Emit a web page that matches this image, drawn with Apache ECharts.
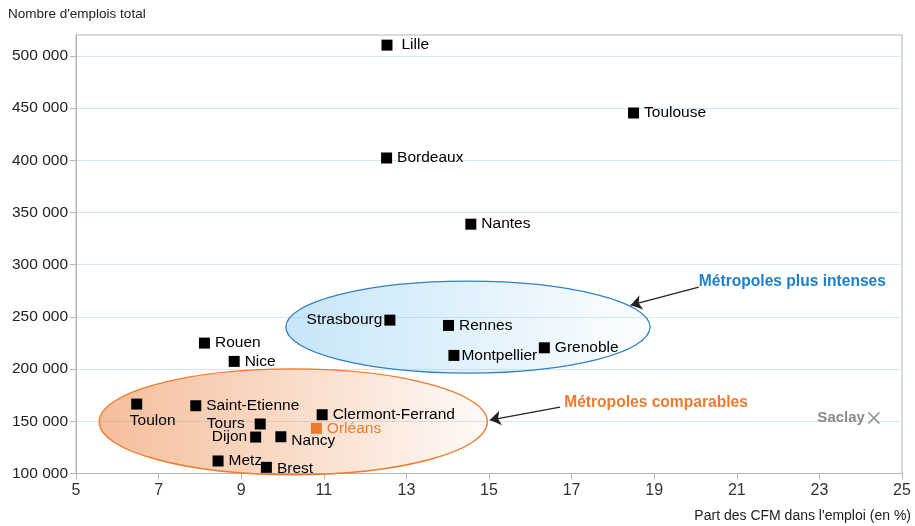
<!DOCTYPE html>
<html><head><meta charset="utf-8">
<script src="https://cdn.jsdelivr.net/npm/echarts@6/dist/echarts.min.js"></script>
<style>html,body{margin:0;padding:0;background:#fff}#c{width:915px;height:526px}</style>
</head><body><div id="c"></div>
<script>
// ---- data ----
var cities = ['Lille','Toulouse','Bordeaux','Nantes','Strasbourg','Rennes','Montpellier','Grenoble','Rouen','Nice','Toulon','Saint-Etienne','Tours','Dijon','Nancy','Clermont-Ferrand','Metz','Brest'];
var cfmShare = [12.53,18.50,12.52,14.56,12.60,14.02,14.15,16.34,8.11,8.83,6.47,7.90,9.46,9.35,9.96,10.96,8.44,9.61];
var jobs = [510300,445300,402200,338800,246900,241800,213100,220400,224900,207400,166500,164900,147400,134900,135200,156300,112000,105900];
var focusCity = ['Orléans'];
var focusShare = [10.82];
var focusJobs = [143300];
var saclayName = ['Saclay'];
var saclayShare = [24.32];
var saclayJobs = [153100];
var xTicks = [5,7,9,11,13,15,17,19,21,23,25];
var yTicks = [100000,150000,200000,250000,300000,350000,400000,450000,500000];
// annotation groups (ellipse centre x, centre y, radius x, radius y in data units)
var groupNames = ['Métropoles plus intenses','Métropoles comparables'];
var groupEllipse = [[14.49,240200,4.41,44000],[10.26,149500,4.70,50700]];
var groupArrowFrom = [[20.08,278500],[16.72,163600]];
var groupArrowTo = [[18.43,261200],[15.02,151200]];
var groupLabelAt = [[20.08,283300],[16.82,167500]];

var FONT = '"Liberation Sans", Arial, sans-serif';
var NARROW = '"Liberation Sans Narrow", "Liberation Sans", Arial, sans-serif';

// per-city label tweaks (style only)
var labelTweaks = {
  'Lille': {distance: 9},
  'Strasbourg': {position: 'left', distance: 2},
  'Tours': {position: 'left', distance: 10},
  'Dijon': {position: 'left', distance: 3},
  'Toulon': {position: 'bottom', distance: 3, offset: [16, 0]},
  'Nancy': {offset: [0, 4]},
  'Brest': {offset: [0, 1]},
  'Montpellier': {distance: 2}
};

var cityData = cities.map(function (n, i) {
  var d = {name: n, value: [cfmShare[i], jobs[i]]};
  if (labelTweaks[n]) d.label = labelTweaks[n];
  return d;
});

var blueFill = new echarts.graphic.LinearGradient(0, 0, 1, 0, [
  {offset: 0, color: 'rgba(120,195,240,0.42)'},
  {offset: 1, color: 'rgba(120,195,240,0.02)'}]);
var orangeFill = new echarts.graphic.LinearGradient(0, 0, 1, 0, [
  {offset: 0, color: 'rgba(235,125,55,0.50)'},
  {offset: 1, color: 'rgba(235,125,55,0.04)'}]);
var ellipseStyles = [
  {fill: blueFill, stroke: '#2f80c8', lineWidth: 1.3},
  {fill: orangeFill, stroke: '#f07a2a', lineWidth: 1.3}];
var groupColors = ['#1a80d0', '#f07a2a'];

var chart = echarts.init(document.getElementById('c'), null, {renderer: 'canvas'});
chart.setOption({
  animation: false,
  backgroundColor: '#fff',
  grid: {left: 76, right: 13, top: 35, bottom: 52.5, show: true, borderColor: '#b5b5b5', borderWidth: 1},
  xAxis: {
    type: 'value', min: 5, max: 25, interval: 2,
    axisLine: {show: true, lineStyle: {color: '#b5b5b5'}},
    axisTick: {show: true, length: 6, lineStyle: {color: '#b5b5b5'}, customValues: xTicks},
    splitLine: {show: false},
    axisLabel: {fontFamily: NARROW, fontSize: 16, color: '#333', margin: 9, customValues: xTicks}
  },
  yAxis: {
    type: 'value', min: 100000, max: 520000, interval: 50000,
    axisLine: {show: true, lineStyle: {color: '#b5b5b5'}},
    axisTick: {show: true, length: 6, lineStyle: {color: '#b5b5b5'}, customValues: yTicks},
    splitLine: {show: true, lineStyle: {color: '#d3e9f5', width: 1}},
    axisLabel: {fontFamily: FONT, fontSize: 15.5, color: '#222', margin: 8, customValues: yTicks,
      formatter: function (v) {
        if (yTicks.indexOf(v) < 0) return '';
        return String(v).replace(/\B(?=(\d{3})+(?!\d))/g, ' ');
      }}
  },
  graphic: [
    {type: 'text', left: 8, top: 7, style: {text: "Nombre d'emplois total", font: '13.5px ' + FONT, fill: '#222'}},
    {type: 'text', right: 4, top: 509, style: {text: "Part des CFM dans l'emploi (en %)", font: '14px ' + NARROW, fill: '#222'}}
  ],
  series: [
    {
      type: 'custom', z: 1, silent: true,
      data: groupEllipse,
      renderItem: function (params, api) {
        var i = params.dataIndex;
        var c = api.coord([api.value(0), api.value(1)]);
        var s = api.size([api.value(2), api.value(3)]);
        return {type: 'ellipse', shape: {cx: c[0], cy: c[1], rx: s[0], ry: s[1]}, style: ellipseStyles[i]};
      }
    },
    {
      type: 'lines', coordinateSystem: 'cartesian2d', z: 3, silent: true,
      symbol: ['none', 'arrow'], symbolSize: [0, 11],
      lineStyle: {color: '#222', width: 1.3, opacity: 1},
      data: groupArrowFrom.map(function (f, i) { return {coords: [f, groupArrowTo[i]]}; })
    },
    {
      type: 'scatter', z: 4, silent: true, symbolSize: 0,
      itemStyle: {opacity: 1},
      data: groupNames.map(function (n, i) {
        return {name: n, value: groupLabelAt[i],
          label: {show: true, position: 'right', distance: 0, formatter: '{b}',
            fontFamily: FONT, fontSize: 15.6, fontWeight: 'bold', color: groupColors[i]}};
      })
    },
    {
      type: 'scatter', z: 5, symbol: 'rect', symbolSize: 11,
      itemStyle: {color: '#000', opacity: 1},
      label: {show: true, position: 'right', distance: 5, formatter: '{b}', fontFamily: FONT, fontSize: 15.5, color: '#000'},
      data: cityData
    },
    {
      type: 'scatter', z: 5, symbol: 'rect', symbolSize: 11,
      itemStyle: {color: '#f07a2a', opacity: 1},
      label: {show: true, position: 'right', distance: 5, formatter: '{b}', fontFamily: FONT, fontSize: 15.5, color: '#f07a2a'},
      data: focusCity.map(function (n, i) { return {name: n, value: [focusShare[i], focusJobs[i]]}; })
    },
    {
      type: 'scatter', z: 5, symbol: 'path://M0,0L10,10M10,0L0,10', symbolSize: 11,
      itemStyle: {color: 'none', borderColor: '#8a8a8a', borderWidth: 1.5, opacity: 1},
      label: {show: true, position: 'left', distance: 1, formatter: '{b}', fontFamily: FONT, fontSize: 15, fontWeight: 'bold', color: '#8a8a8a'},
      data: saclayName.map(function (n, i) { return {name: n, value: [saclayShare[i], saclayJobs[i]]}; })
    }
  ]
});
</script></body></html>
